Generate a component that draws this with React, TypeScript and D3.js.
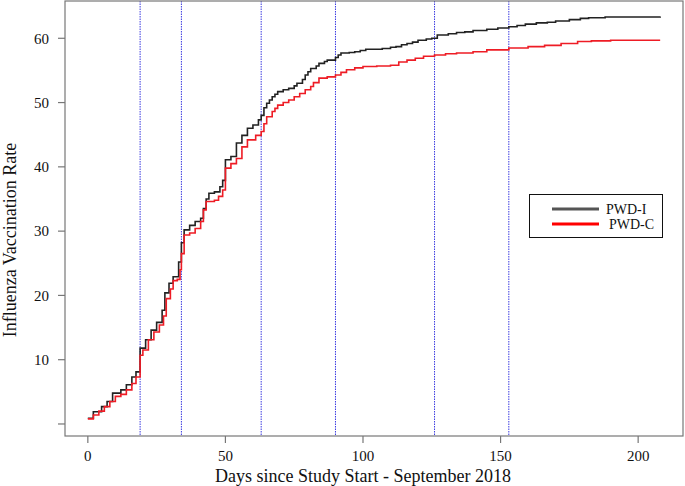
import React from 'react'
import * as d3 from 'd3'

// days since study start and cumulative vaccination rate (%), PWD-I
const daysI = [0, 2, 5, 7, 9, 12, 14, 16, 17.5, 19, 21, 23, 25, 27, 28, 29.5, 31, 33, 34, 35, 37, 39, 41, 42, 43, 44, 46, 48, 49, 50, 52, 54, 56, 58, 60, 62, 63, 64, 65, 66, 67, 68, 69, 71, 73, 75, 76, 78, 79, 80, 81, 83, 84, 86, 87, 90, 91, 92, 95, 97, 99, 101, 107, 110, 112, 114, 116, 118, 120, 123, 125, 127, 131, 134, 137, 140, 145, 149, 153, 156, 159, 163, 167, 170, 175, 179, 182, 188, 194, 208]
const rateI = [0.9, 1.9, 2.7, 3.5, 4.8, 5.3, 6.1, 7.3, 8.1, 11.8, 13.1, 14.6, 15.8, 17.7, 20.4, 21.9, 22.9, 25.2, 28.2, 30.2, 30.9, 31.5, 32.0, 33.5, 35.0, 35.9, 36.1, 36.9, 37.9, 41.1, 41.6, 43.7, 44.9, 46.0, 46.5, 47.3, 48.0, 49.2, 49.9, 50.4, 50.9, 51.3, 51.7, 52.0, 52.2, 52.6, 53.0, 53.6, 54.3, 54.8, 55.3, 55.7, 56.1, 56.4, 56.6, 57.0, 57.4, 57.7, 57.8, 57.9, 58.1, 58.3, 58.4, 58.6, 58.7, 59.0, 59.2, 59.4, 59.7, 59.9, 60.0, 60.5, 60.7, 60.9, 61.0, 61.2, 61.4, 61.6, 61.8, 62.0, 62.2, 62.4, 62.5, 62.7, 62.9, 63.1, 63.2, 63.3, 63.3, 63.4]

// PWD-C
const daysC = [0, 2, 4, 6, 8, 10, 12, 14, 16, 17.5, 19, 20, 22, 24, 26, 27.5, 28.5, 30, 31, 32.5, 33.5, 34, 35, 37, 39, 41, 42, 43, 46, 47.5, 49, 50, 52, 54, 56, 58, 61, 63, 64, 65, 67, 68, 69, 71, 73, 75, 77, 79, 81, 82, 84, 87, 90, 92, 94, 97, 100, 105, 110, 113, 116, 119, 122, 126, 130, 134, 140, 145, 153, 160, 166, 172, 178, 183, 190, 208]
const rateC = [0.8, 1.4, 2.0, 2.7, 3.5, 4.3, 4.6, 5.3, 6.3, 7.3, 10.7, 11.5, 13.1, 14.3, 15.4, 16.8, 19.5, 21.0, 22.3, 22.5, 24.0, 26.5, 29.4, 29.7, 30.4, 31.5, 33.3, 34.6, 34.8, 35.4, 36.4, 39.8, 40.5, 41.3, 43.1, 44.2, 44.9, 45.5, 46.7, 47.8, 48.6, 49.1, 49.6, 50.0, 50.4, 50.9, 51.4, 52.0, 52.5, 53.1, 53.8, 54.0, 54.3, 54.7, 55.1, 55.4, 55.6, 55.7, 55.8, 56.3, 56.6, 56.9, 57.2, 57.4, 57.6, 57.7, 57.9, 58.2, 58.5, 58.7, 58.9, 59.2, 59.5, 59.6, 59.7, 59.7]

const eventDays = [19, 34, 63, 90, 126, 153]
const xTicks = [0, 50, 100, 150, 200]
const yTicks = [0, 10, 20, 30, 40, 50, 60]
const yTickLabels = ['', '10', '20', '30', '40', '50', '60']

const seriesNames = ['PWD-I', 'PWD-C']
const seriesColors = ['#222222', '#ee1c25']
const legendColors = ['#555555', '#ff0000']

const FONT = '"Liberation Serif", "DejaVu Serif", serif'

export default function App() {
  const left = 65
  const right = 683
  const top = 1
  const bottom = 436

  const x = d3.scaleLinear().domain([-8.3, 216.3]).range([left, right])
  const y = d3.scaleLinear().domain([-1.87, 65.8]).range([bottom, top])

  const line = d3
    .line<[number, number]>()
    .x((d) => x(d[0]))
    .y((d) => y(d[1]))
    .curve(d3.curveStepAfter)

  const seriesI = daysI.map((d, i) => [d, rateI[i]] as [number, number])
  const seriesC = daysC.map((d, i) => [d, rateC[i]] as [number, number])

  return (
    <svg
      width={685}
      height={486}
      style={{ position: 'absolute', left: 0, top: 0, background: '#fff' }}
      fontFamily={FONT}
    >
      {/* event lines */}
      {eventDays.map((d) => (
        <line
          key={d}
          x1={x(d)}
          x2={x(d)}
          y1={top}
          y2={bottom}
          stroke="#3a3ae0"
          strokeWidth={1}
          strokeDasharray="1.5 1"
        />
      ))}

      <path d={line(seriesI) || ''} fill="none" stroke={seriesColors[0]} strokeWidth={1.6} />
      <path d={line(seriesC) || ''} fill="none" stroke={seriesColors[1]} strokeWidth={1.6} />

      {/* frame */}
      <rect x={left} y={top} width={right - left} height={bottom - top} fill="none" stroke="#777" strokeWidth={1.2} />

      {/* x axis */}
      {xTicks.map((t) => (
        <g key={t} transform={`translate(${x(t)},${bottom})`}>
          <line y1={0} y2={7} stroke="#777" strokeWidth={1.2} />
          <text y={25} textAnchor="middle" fontSize={15} fill="#111">
            {t}
          </text>
        </g>
      ))}
      <text x={363} y={482} textAnchor="middle" fontSize={18} fill="#111">
        Days since Study Start - September 2018
      </text>

      {/* y axis */}
      {yTicks.map((t, i) => (
        <g key={t} transform={`translate(${left},${y(t)})`}>
          <line x1={0} x2={-7} stroke="#777" strokeWidth={1.2} />
          <text x={-16} dy="0.35em" textAnchor="end" fontSize={15} fill="#111">
            {yTickLabels[i]}
          </text>
        </g>
      ))}
      <text
        transform={`translate(16,240) rotate(-90)`}
        textAnchor="middle"
        fontSize={18}
        fill="#111"
      >
        Influenza Vaccination Rate
      </text>

      {/* legend */}
      <rect x={529.5} y={194.5} width={133} height={43} fill="#fff" stroke="#111" strokeWidth={1} />
      {seriesNames.map((name, i) => (
        <g key={name} transform={`translate(552,${209 + i * 15})`}>
          <line x1={0} x2={47} stroke={legendColors[i]} strokeWidth={3} />
          <text x={54 + i * 3} dy="0.35em" fontSize={14} fill="#111">
            {name}
          </text>
        </g>
      ))}
    </svg>
  )
}
